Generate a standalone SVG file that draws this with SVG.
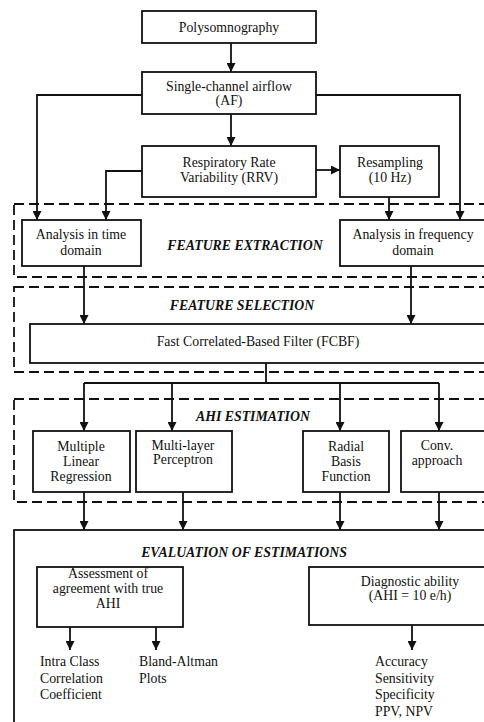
<svg xmlns="http://www.w3.org/2000/svg" width="484" height="722" viewBox="0 0 484 722">
<style>
.box{fill:#fff;stroke:#111;stroke-width:1.8}
.dash{fill:none;stroke:#111;stroke-width:1.8;stroke-dasharray:10 5}
.t{font-family:"Liberation Serif","Times New Roman",serif;font-size:13.8px;fill:#111;text-anchor:middle}
.l{text-anchor:start}
.h{font-weight:bold;font-style:italic}
.c{fill:none;stroke:#111;stroke-width:1.8}
</style>
<defs>
<marker id="ah" viewBox="0 0 10 10" refX="10" refY="5" markerWidth="9" markerHeight="9" markerUnits="userSpaceOnUse" orient="auto">
<path d="M0,0 L10,5 L0,10 z" fill="#111"/>
</marker>
</defs>
<g id="groups">
<rect class="dash" x="14" y="204" width="480" height="73"/>
<rect class="dash" x="14" y="287" width="480" height="85"/>
<rect class="dash" x="14" y="399" width="480" height="103"/>
<rect class="box" x="14" y="530" width="480" height="200"/>
<text class="t h" x="245" y="250">FEATURE EXTRACTION</text>
<text class="t h" x="242" y="310">FEATURE SELECTION</text>
<text class="t h" x="253" y="421">AHI ESTIMATION</text>
<text class="t h" x="244" y="557">EVALUATION OF ESTIMATIONS</text>
</g>
<g id="connectors">
<path class="c" d="M231,43 V72" marker-end="url(#ah)"/>
<path class="c" d="M231,114 V146" marker-end="url(#ah)"/>
<path class="c" d="M142,95 H37 V220" marker-end="url(#ah)"/>
<path class="c" d="M316,95 H460 V220" marker-end="url(#ah)"/>
<path class="c" d="M142,171 H106 V220" marker-end="url(#ah)"/>
<path class="c" d="M316,170 H340" marker-end="url(#ah)"/>
<path class="c" d="M389,197 V220" marker-end="url(#ah)"/>
<path class="c" d="M84,266 V324" marker-end="url(#ah)"/>
<path class="c" d="M411,266 V324" marker-end="url(#ah)"/>
<path class="c" d="M266,363 V383 M84,383 H439"/>
<path class="c" d="M84,383 V431" marker-end="url(#ah)"/>
<path class="c" d="M172,383 V431" marker-end="url(#ah)"/>
<path class="c" d="M340,383 V431" marker-end="url(#ah)"/>
<path class="c" d="M439,383 V431" marker-end="url(#ah)"/>
<path class="c" d="M84,492 V530" marker-end="url(#ah)"/>
<path class="c" d="M183,492 V530" marker-end="url(#ah)"/>
<path class="c" d="M340,492 V530" marker-end="url(#ah)"/>
<path class="c" d="M439,492 V530" marker-end="url(#ah)"/>
<path class="c" d="M70,627 V650" marker-end="url(#ah)"/>
<path class="c" d="M156,627 V650" marker-end="url(#ah)"/>
<path class="c" d="M412,625 V650" marker-end="url(#ah)"/>
</g>
<g id="psg">
<rect class="box" x="142" y="11" width="174" height="32"/>
<text class="t" x="229" y="32">Polysomnography</text>
</g>
<g id="af">
<rect class="box" x="142" y="72" width="174" height="42"/>
<text class="t" x="229" y="91">Single-channel airflow</text>
<text class="t" x="229" y="105">(AF)</text>
</g>
<g id="rrv">
<rect class="box" x="142" y="146" width="174" height="51"/>
<text class="t" x="229" y="167">Respiratory Rate</text>
<text class="t" x="229" y="182">Variability (RRV)</text>
</g>
<g id="resampling">
<rect class="box" x="340" y="146" width="99" height="51"/>
<text class="t" x="390" y="167">Resampling</text>
<text class="t" x="390" y="182">(10 Hz)</text>
</g>
<g id="time">
<rect class="box" x="22" y="220" width="119" height="46"/>
<text class="t" x="81" y="239">Analysis in time</text>
<text class="t" x="81" y="255">domain</text>
</g>
<g id="freq">
<rect class="box" x="340" y="220" width="154" height="46"/>
<text class="t" x="413" y="239">Analysis in frequency</text>
<text class="t" x="413" y="255">domain</text>
</g>
<g id="fcbf">
<rect class="box" x="30" y="324" width="464" height="39"/>
<text class="t" x="258" y="346">Fast Correlated-Based Filter (FCBF)</text>
</g>
<g id="mlr">
<rect class="box" x="33" y="431" width="97" height="61"/>
<text class="t" x="81" y="451">Multiple</text>
<text class="t" x="81" y="466">Linear</text>
<text class="t" x="81" y="481">Regression</text>
</g>
<g id="mlp">
<rect class="box" x="136" y="431" width="96" height="61"/>
<text class="t" x="183" y="450">Multi-layer</text>
<text class="t" x="183" y="464">Perceptron</text>
</g>
<g id="rbf">
<rect class="box" x="303" y="431" width="86" height="61"/>
<text class="t" x="346" y="451">Radial</text>
<text class="t" x="346" y="466">Basis</text>
<text class="t" x="346" y="481">Function</text>
</g>
<g id="conv">
<rect class="box" x="401" y="431" width="93" height="61"/>
<text class="t" x="437" y="450">Conv.</text>
<text class="t" x="437" y="465">approach</text>
</g>
<g id="assessment">
<rect class="box" x="37" y="567" width="146" height="60"/>
<text class="t" x="108" y="578">Assessment of</text>
<text class="t" x="108" y="593">agreement with true</text>
<text class="t" x="108" y="608">AHI</text>
</g>
<g id="diagnostic">
<rect class="box" x="309" y="567" width="185" height="58"/>
<text class="t" x="410" y="586">Diagnostic ability</text>
<text class="t" x="410" y="600">(AHI = 10 e/h)</text>
</g>
<g id="icc">
<text class="t l" x="40" y="666">Intra Class</text>
<text class="t l" x="40" y="683">Correlation</text>
<text class="t l" x="40" y="699">Coefficient</text>
</g>
<g id="ba">
<text class="t l" x="139" y="666">Bland-Altman</text>
<text class="t l" x="139" y="683">Plots</text>
</g>
<g id="metrics">
<text class="t l" x="375" y="666">Accuracy</text>
<text class="t l" x="375" y="683">Sensitivity</text>
<text class="t l" x="375" y="699">Specificity</text>
<text class="t l" x="375" y="716">PPV, NPV</text>
</g>
</svg>
